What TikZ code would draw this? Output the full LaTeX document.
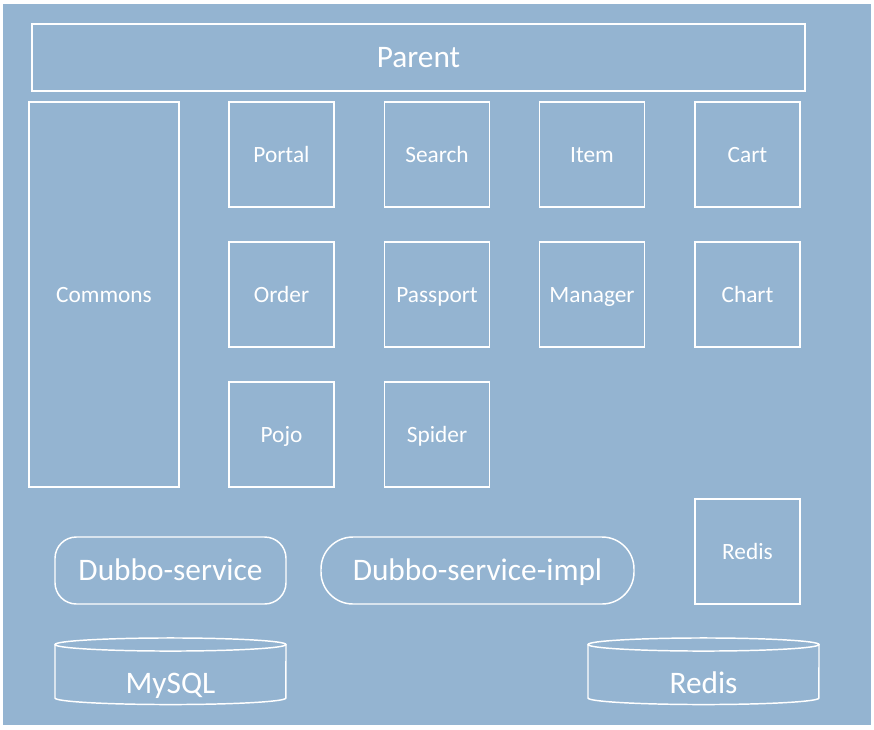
\documentclass[tikz,border=0pt]{standalone}
\usepackage{fontspec}
\setmainfont{Carlito}
\definecolor{panel}{RGB}{148,180,209}

\begin{document}
\begin{tikzpicture}[x=0.75pt, y=-0.75pt,
    wire/.style={draw=white, line width=1.1pt},
    label/.style={text=white, inner sep=0pt, text depth=0pt},
    module/.style={wire, label, font=\fontsize{17.5}{20}\selectfont, text height=11.3pt,
        minimum width=78.75pt, minimum height=78.75pt},
    service/.style={wire, label, font=\fontsize{23.5}{27}\selectfont, text height=15.1pt,
        minimum height=50.25pt},
    store/.style={label, font=\fontsize{23.5}{27}\selectfont, text height=15.1pt}]
    \useasboundingbox (0,0) rectangle (874,729);

	% Background
	\fill[panel] (3,4) rectangle (871,725);

	% Title
	\node[label, draw=white, line width=1.5pt, font=\fontsize{23.5}{27}\selectfont, text height=15.1pt,
	    minimum width=579.75pt, minimum height=50.25pt] (parent) at (418.5,57.5) {Parent};

	% Commons
	\node[module, minimum width=112.5pt, minimum height=288.75pt] (commons) at (104,294.5) {Commons};

	% Modules
	\foreach \name/\x/\y/\text in {portal/281.5/154.5/Portal, search/437/154.5/Search,
	        item/592/154.5/Item, cart/747.5/154.5/Cart,
	        order/281.5/294.5/Order, passport/437/294.5/Passport,
	        manager/592/294.5/Manager, chart/747.5/294.5/Chart,
	        pojo/281.5/434.5/Pojo, spider/437/434.5/Spider,
	        redis/747.5/551.5/Redis}
		\node[module] (\name) at (\x,\y) {\text};

	% Services
	\node[service, rounded corners=16pt, minimum width=173.25pt] (dubbo) at (170.5,570.5) {Dubbo-service};
	\node[service, rounded corners=24pt, minimum width=234.75pt] (dubboimpl) at (477.5,570.5) {Dubbo-service-impl};

	% Databases
	\foreach \name/\x/\text in {mysql/170.5/MySQL, redisdb/703.5/Redis} {
		\draw[wire] (\x-115.5,644.5) -- (\x-115.5,698)
		    arc[start angle=180, end angle=360, x radius=86.6pt, y radius=4.9pt] -- (\x+115.5,644.5);
		\draw[wire] (\x,644.5) ellipse [x radius=86.6pt, y radius=4.9pt];
		\node[store] (\name) at (\x,683) {\text};
	}
\end{tikzpicture}
\end{document}
